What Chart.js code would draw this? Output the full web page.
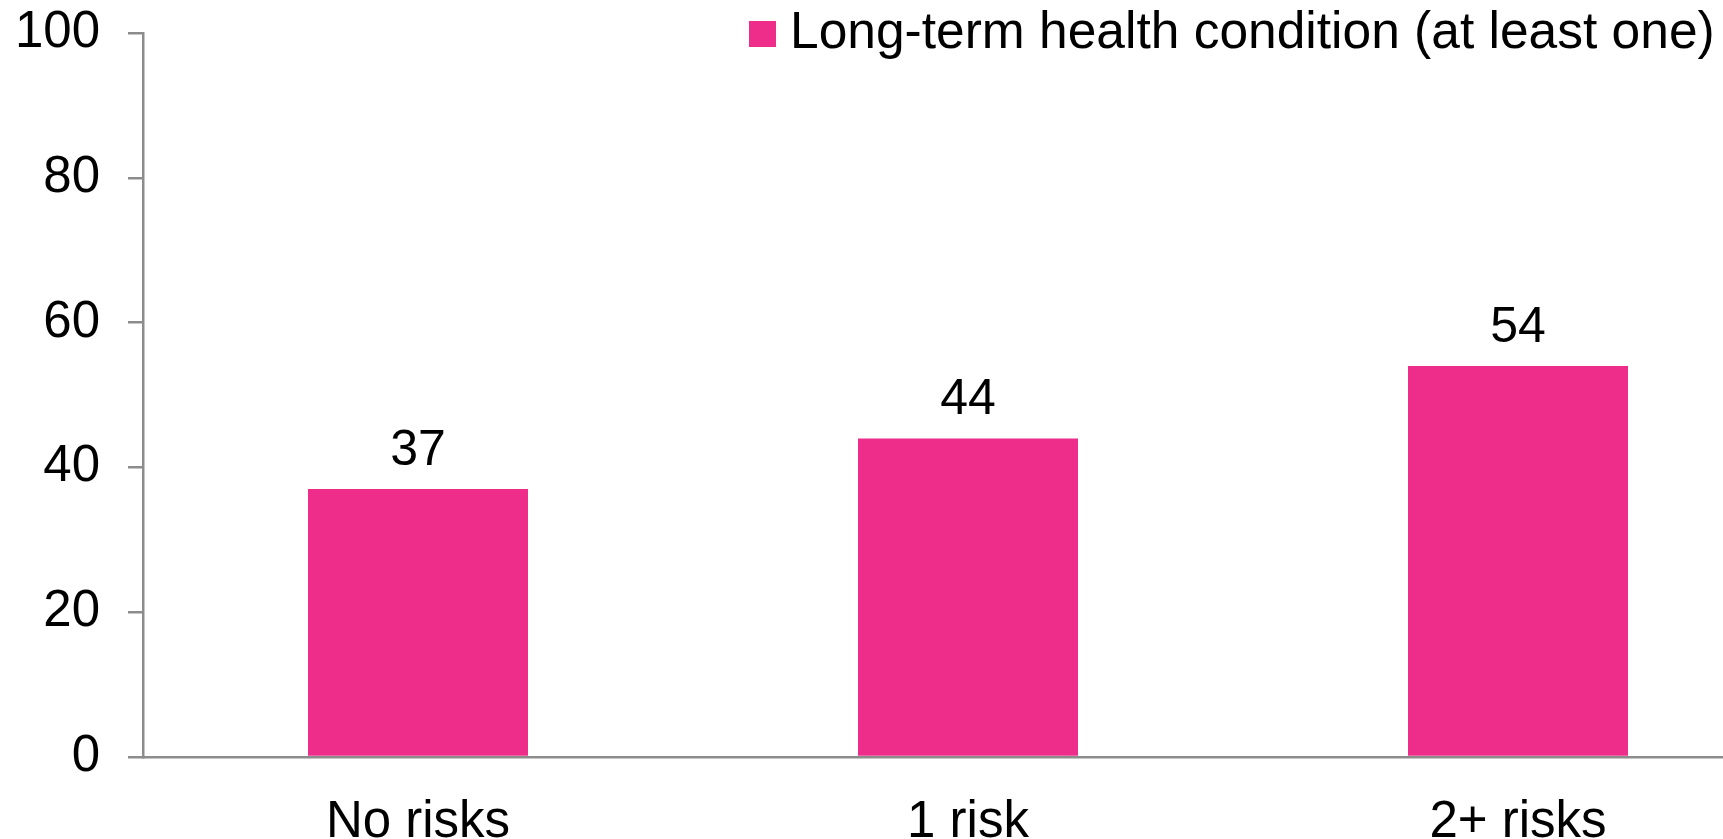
<!DOCTYPE html>
<html>
<head>
<meta charset="utf-8">
<script src="https://cdn.jsdelivr.net/npm/chart.js@4.4.1/dist/chart.umd.min.js"></script>
<style>
  html, body { margin: 0; padding: 0; background: #fff; overflow: hidden; }
  #wrap { width: 1793px; height: 839px; }
</style>
</head>
<body>
<div id="wrap"><canvas id="barChart" width="1793" height="839"></canvas></div>
<script>
const categories = ["No risks", "1 risk", "2+ risks"];
const seriesName = "Long-term health condition (at least one)";
const values = [37, 44, 54];
const yTicks = [0, 20, 40, 60, 80, 100];

const pink = "#ED2D89";
const axisGray = "#8C8C8C";
const fontFamily = "'Liberation Sans', Arial, sans-serif";

// etiquetas encima de cada barra
const valueLabels = {
  id: "valueLabels",
  afterDatasetsDraw(chart) {
    const ctx = chart.ctx;
    const meta = chart.getDatasetMeta(0);
    ctx.save();
    ctx.font = "50px " + fontFamily;
    ctx.fillStyle = "#000";
    ctx.textAlign = "center";
    ctx.textBaseline = "alphabetic";
    meta.data.forEach((bar, i) => {
      ctx.fillText(String(chart.data.datasets[0].data[i]), bar.x, bar.y - 24);
    });
    ctx.restore();
  },
};

// leyenda dibujada a mano arriba a la derecha
const cornerLegend = {
  id: "cornerLegend",
  afterDraw(chart) {
    const ctx = chart.ctx;
    const ds = chart.data.datasets[0];
    ctx.save();
    ctx.fillStyle = ds.backgroundColor;
    ctx.fillRect(749, 21, 27, 26);
    ctx.font = "51.5px " + fontFamily;
    ctx.fillStyle = "#000";
    ctx.textAlign = "left";
    ctx.textBaseline = "alphabetic";
    ctx.fillText(ds.label, 790, 48);
    ctx.restore();
  },
};

const ctx1 = document.getElementById("barChart").getContext("2d");
new Chart(ctx1, {
  type: "bar",
  data: {
    labels: categories,
    datasets: [
      {
        label: seriesName,
        data: values,
        backgroundColor: pink,
        categoryPercentage: 1,
        barPercentage: 0.4,
      },
    ],
  },
  options: {
    responsive: false,
    animation: false,
    layout: { padding: { top: 33, right: 0, left: 0, bottom: 0 } },
    plugins: {
      legend: { display: false },
      tooltip: { enabled: false },
    },
    scales: {
      x: {
        offset: true,
        grid: { display: false, drawTicks: false },
        border: { display: true, color: axisGray, width: 2.5 },
        ticks: {
          color: "#000",
          font: { size: 51, family: fontFamily },
          padding: 35,
          maxRotation: 0,
        },
        afterFit(scale) {
          scale.height = 82;
          scale.paddingLeft = 0;
          scale.paddingRight = 0;
        },
      },
      y: {
        min: 0,
        max: 100,
        afterBuildTicks(scale) {
          scale.ticks = yTicks.map((v) => ({ value: v }));
        },
        grid: {
          display: true,
          drawOnChartArea: false,
          drawTicks: true,
          tickLength: 15,
          color: axisGray,
          lineWidth: 2.5,
        },
        border: { display: true, color: axisGray, width: 2.5 },
        ticks: {
          color: "#000",
          font: { size: 51, family: fontFamily },
          padding: 28,
        },
        afterFit(scale) {
          scale.width = 143;
          scale.paddingTop = 0;
          scale.paddingBottom = 0;
        },
      },
    },
  },
  plugins: [valueLabels, cornerLegend],
});
</script>
</body>
</html>
